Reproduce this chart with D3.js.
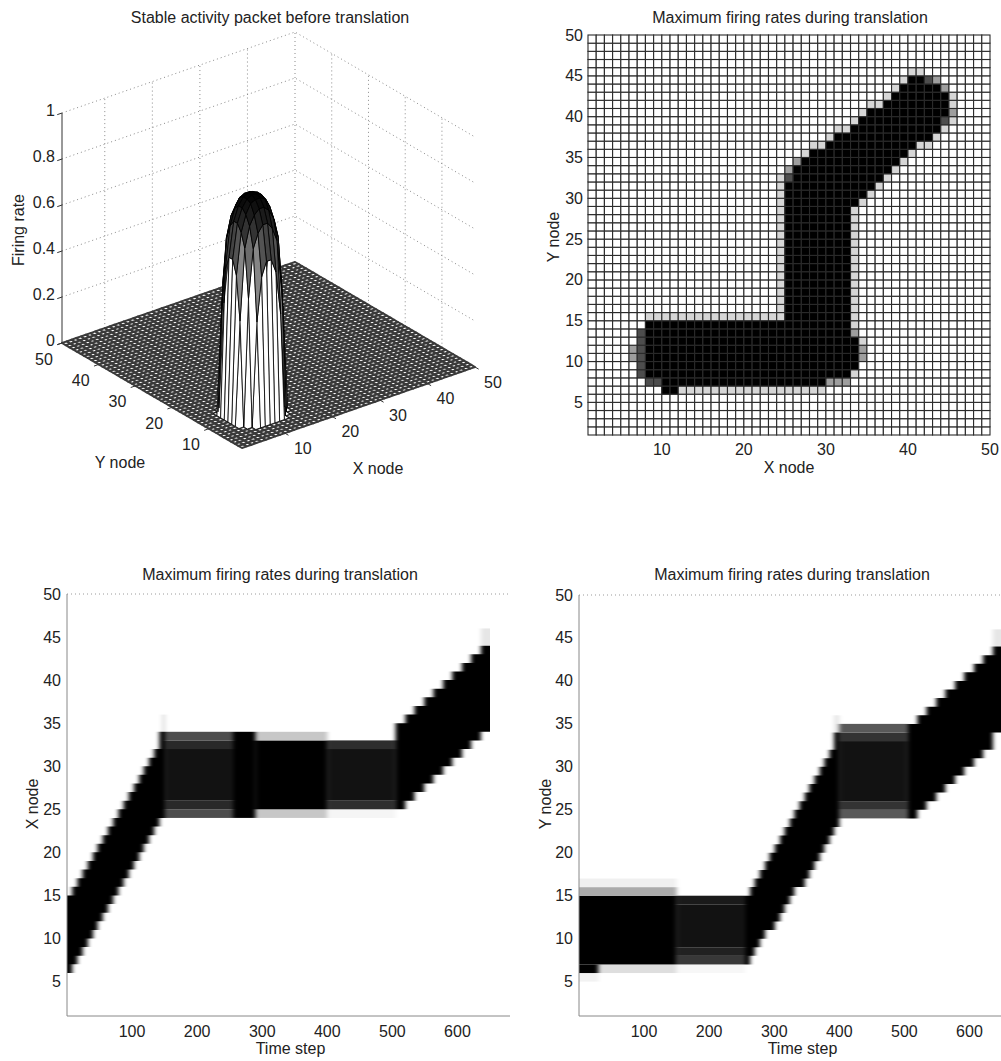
<!DOCTYPE html>
<html><head><meta charset="utf-8">
<script src="https://cdn.jsdelivr.net/npm/d3@7"></script>
<style>
body{margin:0;background:#fff;}
svg{display:block;font-family:"Liberation Sans",Arial,Helvetica,sans-serif;}
</style></head><body>
<svg id="fig" width="1001" height="1061"></svg>
<script>
// ================= DATA =================
const titles = {
  surf: "Stable activity packet before translation",
  max: "Maximum firing rates during translation"
};
const nodeTicks = [5,10,15,20,25,30,35,40,45,50];
const nodeTicks10 = [10,20,30,40,50];
const zTicks = [0,0.2,0.4,0.6,0.8,1];
const zLabels = ["0","0.2","0.4","0.6","0.8","1"];
const timeTicks = [100,200,300,400,500,600];

// stable packet (firing rate), rows y=6..15, columns x=6..15
const packetX0 = 6, packetY0 = 6;
const packetRows = [
  [0,0,0.45,0.64,0.70,0.70,0.64,0.45,0,0],
  [0,0.55,0.76,0.82,0.85,0.85,0.82,0.76,0.55,0],
  [0.45,0.76,0.85,0.89,0.91,0.91,0.89,0.85,0.76,0.45],
  [0.64,0.82,0.89,0.93,0.94,0.94,0.93,0.89,0.82,0.64],
  [0.70,0.85,0.91,0.94,0.95,0.95,0.94,0.91,0.85,0.70],
  [0.70,0.85,0.91,0.94,0.95,0.95,0.94,0.91,0.85,0.70],
  [0.64,0.82,0.89,0.93,0.94,0.94,0.93,0.89,0.82,0.64],
  [0.45,0.76,0.85,0.89,0.91,0.91,0.89,0.85,0.76,0.45],
  [0,0.55,0.76,0.82,0.85,0.85,0.82,0.76,0.55,0],
  [0,0,0.45,0.64,0.70,0.70,0.64,0.45,0,0]
];

// max firing rate over X/Y grid: cell blocks [xFrom, xTo, yFrom, yTo, rate]
const maxXYBlocks = [
  [10,11,6,6,1],[12,29,6,6,0.16],
  [8,9,7,7,0.7],[10,29,7,7,1],[30,32,7,7,0.38],
  [7,7,8,13,0.7],[6,6,10,11,0.38],
  [8,32,8,14,1],
  [33,33,8,8,0.16],[33,33,9,12,1],[33,33,13,13,0.38],[33,33,14,28,0.16],
  [34,34,10,11,0.38],[34,34,12,12,0.16],
  [8,24,15,15,0.16],[24,24,16,32,0.16],
  [25,32,15,28,1],
  [25,33,29,29,1],[34,34,29,29,0.16],
  [25,34,30,30,1],[35,35,30,30,0.16],
  [25,35,31,31,1],[36,36,31,31,0.16],
  [25,25,32,32,0.7],[26,36,32,32,1],[37,37,32,32,0.16],
  [25,25,33,33,0.38],[26,37,33,33,1],[38,38,33,33,0.16],
  [26,26,34,34,0.38],[27,38,34,34,1],[39,39,34,34,0.16],
  [27,27,35,35,0.16],[28,39,35,35,1],[40,40,35,35,0.16],
  [28,29,36,36,0.16],[30,40,36,36,1],[41,42,36,36,0.16],
  [30,30,37,37,0.16],[31,42,37,37,1],[43,43,37,37,0.16],
  [31,32,38,38,0.16],[33,43,38,38,1],[44,44,38,38,0.16],
  [33,33,39,39,0.16],[34,43,39,39,1],[44,44,39,39,0.7],[45,45,39,39,0.16],
  [34,34,40,40,0.16],[35,44,40,40,1],[45,45,40,40,0.38],
  [35,36,41,41,0.16],[37,44,41,41,1],[45,45,41,41,0.16],
  [37,37,42,42,0.16],[38,44,42,42,1],[45,45,42,42,0.16],
  [38,38,43,43,0.16],[39,43,43,43,1],[44,44,43,43,0.38],
  [39,39,44,44,0.16],[40,41,44,44,1],[42,42,44,44,0.7],[43,43,44,44,0.38],
  [40,41,45,45,0.16]
];

// X node vs time: moving phases (step edges) and stationary blocks [t0,t1,nodeLo,nodeHi,rate]
const xnodeRamps = [
  {times:[0,8,16,24,32,40,47,55,63,71,79,87,95,103,111,118,126,134,142], end:151,
   lows:[6,7,8,9,10,11,12,13,14,15,16,17,18,19,20,21,22,23,24],
   highs:[15,16,17,18,19,20,21,22,23,24,25,26,27,28,29,30,31,32,34]},
  {times:[505,520,534,549,563,578,592,607,621,636], end:650,
   lows:[25,26,27,28,29,30,31,32,33,34],
   highs:[35,36,37,38,39,40,41,42,43,44]}
];
const xnodeBlocks = [
  [146,151,34,36,0.12],
  [151,255,24,25,0.7],[151,255,25,26,0.84],[151,255,26,32,0.93],[151,255,32,33,0.84],[151,255,33,34,0.7],
  [255,290,24,34,1],
  [290,400,24,25,0.22],[290,400,25,33,1],[290,400,33,34,0.22],
  [400,505,24,25,0.04],[400,505,25,26,0.82],[400,505,26,32,0.93],[400,505,32,33,0.82],
  [636,650,44,46,0.1]
];

// Y node vs time
const ynodeRamps = [
  {times:[255,263,270,278,286,293,301,309,316,324,331,339,347,354,362,370,377,385,392], end:400,
   lows:[7,8,9,10,11,11,12,13,14,15,16,16,17,18,19,20,21,22,23],
   highs:[15,16,17,18,19,20,21,22,23,24,25,26,27,28,29,30,31,32,34]},
  {times:[505,520,534,549,563,578,592,607,621,636], end:650,
   lows:[24,25,26,27,28,29,30,31,32,34],
   highs:[35,36,37,38,39,40,41,42,43,44]}
];
const ynodeBlocks = [
  [0,30,5,6,0.05],[0,30,6,7,1],[30,150,6,7,0.13],[0,150,7,15,1],[0,150,15,16,0.33],[0,150,16,17,0.06],
  [150,255,6,7,0.03],[150,255,7,8,0.78],[150,255,8,9,0.87],[150,255,9,14,0.93],[150,255,14,15,0.9],
  [392,400,34,36,0.1],
  [400,505,24,25,0.65],[400,505,25,26,0.8],[400,505,26,33,0.93],[400,505,33,34,0.8],[400,505,34,35,0.65],
  [636,650,44,46,0.1]
];

// ================= DRAWING =================
const svg = d3.select("#fig");
const gray = d3.scaleLinear().domain([0,1]).range(["#ffffff","#000000"]);
const TXT = "#222";
const FS = 16;
const defs = svg.append("defs");

function text(g, x, y, s, opts={}) {
  const t = g.append("text").attr("x", x).attr("y", y).text(s)
    .attr("fill", TXT).attr("font-size", opts.size || FS)
    .attr("text-anchor", opts.anchor || "middle");
  if (opts.rot) t.attr("transform", `rotate(-90,${x},${y})`);
  if (opts.base) t.attr("dominant-baseline", opts.base);
  return t;
}

// ---------- Panel 1: 3D surface ----------
(function(){
  const g = svg.append("g");
  const O = [242, 448];
  const hx = d3.scaleLinear().domain([1,50]).range([0,233]);
  const vx = d3.scaleLinear().domain([1,50]).range([0,-81]);
  const hy = d3.scaleLinear().domain([1,50]).range([0,-180]);
  const vy = d3.scaleLinear().domain([1,50]).range([0,-105]);
  const vz = d3.scaleLinear().domain([0,1]).range([0,-230]);
  const P = (x,y,z) => [O[0]+hx(x)+hy(y), O[1]+vx(x)+vy(y)+vz(z)];
  const line = d3.line();

  // back-wall grid (dotted)
  const grid = g.append("g").attr("stroke","#8a8a8a").attr("stroke-width",1)
    .attr("stroke-dasharray","1,3").attr("fill","none");
  zTicks.filter(z=>z>0).forEach(z=>{
    grid.append("path").attr("d", line([P(1,50,z),P(50,50,z),P(50,1,z)]));
  });
  nodeTicks10.forEach(v=>{
    grid.append("path").attr("d", line([P(v,50,0),P(v,50,1)]));
    if (v<50) grid.append("path").attr("d", line([P(50,v,0),P(50,v,1)]));
  });

  // surface data table
  const N = 50;
  const Z = d3.range(N+1).map(()=>new Array(N+1).fill(0));
  packetRows.forEach((row,r)=>row.forEach((v,c)=>{ Z[packetY0+r][packetX0+c]=v; }));
  const zmax = d3.max(packetRows.flat());
  const cmap = d3.scaleLinear().domain([0,zmax]).range(["#ffffff","#000000"]);
  const cam = [-0.527,-0.687,0.5];
  const faces = [];
  for (let j=1;j<N;j++) for (let i=1;i<N;i++){
    const pts=[[i,j,Z[j][i]],[i+1,j,Z[j][i+1]],[i+1,j+1,Z[j+1][i+1]],[i,j+1,Z[j+1][i]]];
    const flat = pts.every(p=>p[2]===0);
    const cx=d3.mean(pts,p=>(p[0]-1)/49), cy=d3.mean(pts,p=>(p[1]-1)/49), cz=d3.mean(pts,p=>p[2]*0.9);
    faces.push({pts, c:Z[j][i], flat, depth: flat? -10 : cx*cam[0]+cy*cam[1]+cz*cam[2]});
  }
  faces.sort((a,b)=>a.depth-b.depth);
  g.append("g").selectAll("path").data(faces).join("path")
    .attr("d", f=>line(f.pts.map(p=>P(p[0],p[1],p[2])))+"Z")
    .attr("fill", f=>cmap(f.c))
    .attr("stroke", f=>f.flat?"#3a3a3a":"#000").attr("stroke-width", f=>f.flat?2:0.8)
    .attr("stroke-linejoin","round");

  // z axis
  const ax = g.append("g").attr("stroke","#333").attr("stroke-width",1).attr("fill","none");
  ax.append("path").attr("d", line([P(1,50,0),P(1,50,1)]));
  zTicks.forEach(z=>ax.append("path").attr("d", line([P(1,50,z),P(0,50,z)])));
  nodeTicks10.forEach(v=>{
    ax.append("path").attr("d", line([P(1,v,0),P(0,v,0)]));
    ax.append("path").attr("d", line([P(v,1,0),P(v,0,0)]));
  });
  zTicks.forEach((z,k)=>{ const p=P(1,50,z); text(g,p[0]-7,p[1]-3,zLabels[k],{anchor:"end",base:"central"}); });
  nodeTicks10.forEach(v=>{
    const p=P(1,v,0); text(g,p[0]-18,p[1]+16,String(v),{base:"central"});
    const q=P(v,1,0); text(g,q[0]+18,q[1]+15,String(v),{base:"central"});
  });
  text(g,18,230,"Firing rate",{rot:true,base:"central"});
  text(g,120,462,"Y node",{base:"central"});
  text(g,378,468,"X node",{base:"central"});
  text(g,270,23,titles.surf);
})();

// ---------- Panel 2: max firing grid ----------
(function(){
  const g = svg.append("g");
  const x = d3.scaleLinear().domain([1,50]).range([588,990]);
  const y = d3.scaleLinear().domain([1,50]).range([435,35]);
  const M = d3.range(50).map(()=>new Array(50).fill(0));
  maxXYBlocks.forEach(([i0,i1,j0,j1,r])=>{
    for(let j=j0;j<=j1;j++) for(let i=i0;i<=i1;i++) M[j][i]=r;
  });
  const cells=[];
  for(let j=1;j<50;j++) for(let i=1;i<50;i++) cells.push({i,j,r:M[j][i]});
  g.append("g").selectAll("rect").data(cells).join("rect")
    .attr("x",d=>x(d.i)).attr("y",d=>y(d.j+1))
    .attr("width",d=>x(d.i+1)-x(d.i)).attr("height",d=>y(d.j)-y(d.j+1))
    .attr("fill",d=>gray(d.r)).attr("stroke","#2a2a2a").attr("stroke-width",1.1);
  nodeTicks.forEach(v=>text(g,583,y(v),String(v),{anchor:"end",base:"central"}));
  nodeTicks10.forEach(v=>text(g,x(v),455,String(v)));
  text(g,789,473,"X node");
  text(g,553,237,"Y node",{rot:true,base:"central"});
  text(g,790,23,titles.max);
})();

// ---------- Panels 3 & 4: node vs time ----------
function timePanel(id, left, right, top, ramps, blocks, ylab, labX, titleX) {
  const g = svg.append("g");
  const x = d3.scaleLinear().domain([0,650]).range([left,right]);
  const y = d3.scaleLinear().domain([1,50]).range([1016,top]);
  const clip = defs.append("clipPath").attr("id","clip"+id);
  clip.append("rect").attr("x",left).attr("y",top).attr("width",right-left).attr("height",1016-top);
  const f = defs.append("filter").attr("id","blur"+id).attr("filterUnits","userSpaceOnUse")
    .attr("color-interpolation-filters","sRGB")
    .attr("x",left-30).attr("y",top-30).attr("width",right-left+60).attr("height",1016-top+60);
  f.append("feGaussianBlur").attr("stdDeviation","2.2 0.5");
  const outer = g.append("g").attr("clip-path",`url(#clip${id})`);
  const inner = outer.append("g").attr("filter",`url(#blur${id})`);
  inner.append("rect").attr("x",left-30).attr("y",top-30).attr("width",right-left+60).attr("height",1016-top+60).attr("fill","#fff");
  const xs = t => t<=0 ? x(t)-15 : (t>=650 ? x(t)+15 : x(t));
  inner.selectAll("rect.b").data(blocks).join("rect").attr("class","b")
    .attr("x",d=>xs(d[0])).attr("width",d=>xs(d[1])-xs(d[0]))
    .attr("y",d=>y(d[3])).attr("height",d=>y(d[2])-y(d[3]))
    .attr("fill",d=>gray(d[4]));
  const area = d3.area().curve(d3.curveStepAfter)
    .x(d=>xs(d[0])).y0(d=>y(d[1])).y1(d=>y(d[2]));
  ramps.forEach(rp=>{
    const pts = rp.times.map((t,k)=>[t,rp.lows[k],rp.highs[k]]);
    const last = pts[pts.length-1];
    pts.push([rp.end,last[1],last[2]]);
    inner.append("path").attr("d",area(pts)).attr("fill",gray(1));
  });
  // axes
  g.append("line").attr("x1",left).attr("x2",right+20).attr("y1",y(50)).attr("y2",y(50))
    .attr("stroke","#9a9a9a").attr("stroke-dasharray","1,3");
  g.append("line").attr("x1",left).attr("x2",left).attr("y1",y(50)).attr("y2",1016).attr("stroke","#888");
  g.append("line").attr("x1",left).attr("x2",right+20).attr("y1",1016).attr("y2",1016).attr("stroke","#888");
  nodeTicks.forEach(v=>text(g,left-6,y(v),String(v),{anchor:"end",base:"central"}));
  timeTicks.forEach(t=>text(g,x(t),1037,String(t)));
  text(g,(left+right)/2+12,1054,"Time step");
  text(g,labX,804,ylab,{rot:true,base:"central"});
  text(g,titleX,580,titles.max);
}
timePanel(3, 67, 490, 594, xnodeRamps, xnodeBlocks, "X node", 32, 280);
timePanel(4, 579, 1002, 595, ynodeRamps, ynodeBlocks, "Y node", 545, 792);
</script>
</body></html>
